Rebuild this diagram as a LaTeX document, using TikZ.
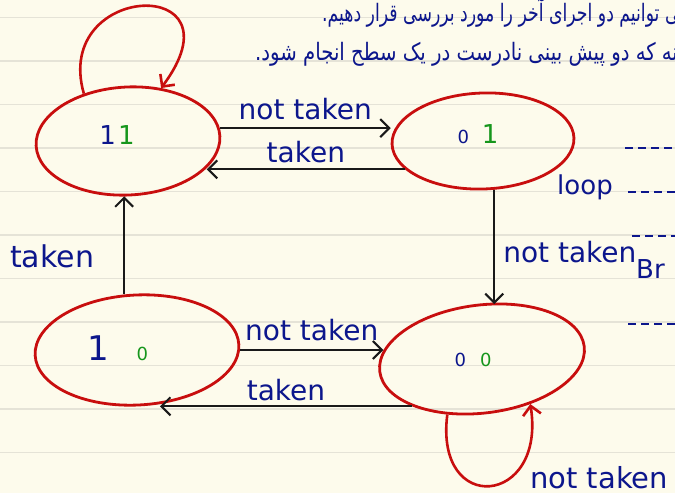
\documentclass[tikz,border=0pt]{standalone}
\usepackage{fontspec}
\setmainfont{DejaVu Sans}
\newfontfamily\farsi[Script=Arabic]{DejaVu Sans}
\TeXXeTstate=1
\usepackage{xcolor,graphicx}
\usetikzlibrary{arrows.meta,shapes.geometric}

\definecolor{paper}{RGB}{253,251,236}
\definecolor{rulegray}{RGB}{229,227,215}
\definecolor{ink}{RGB}{12,22,140}
\definecolor{leaf}{RGB}{22,150,28}
\definecolor{redpen}{RGB}{200,14,14}

\newcommand{\dz}{{\fontsize{18}{20}\selectfont 0}}

\begin{document}
\begin{tikzpicture}[x=1pt,y=-1pt,
  state/.style={ellipse, draw=redpen, line width=2.8pt, inner sep=0pt},
  digit/.style={inner sep=0pt, font=\fontsize{26}{28}\selectfont},
  edge/.style={line width=2.1pt, black!90, -{Straight Barb[length=9pt,width=18pt]}},
  selfloop/.style={line width=2.6pt, redpen, -{Straight Barb[length=9pt,width=18pt]}},
  lbl/.style={text=ink, inner sep=0pt, font=\fontsize{28}{30}\selectfont},
  farsiline/.style={text=ink, inner sep=0pt, anchor=base west, font=\farsi\fontsize{24}{26}\selectfont},
  note/.style={ink, line width=2.5pt, dash pattern=on 8pt off 5pt}]
% лист
\useasboundingbox (0,0) rectangle (675,493);
\clip (0,0) rectangle (675,493);
\fill[paper] (0,0) rectangle (675,493);
\foreach \y in {17.5,61,...,480}
  \draw[rulegray, line width=1.5pt] (0,\y) -- (675,\y);
% текст сверху
\node[farsiline] (line1) at (322,21)
  {\scalebox{0.72}[1]{\beginR می توانیم دو اجرای آخر را مورد بررسی قرار دهیم.\endR}};
\node[farsiline] (line2) at (255,60)
  {\scalebox{0.82}[1]{\beginR نه که دو پیش بینی نادرست در یک سطح انجام شود.\endR}};
% состояния
\node[state, minimum width=184pt, minimum height=108pt, rotate=3,
  label={[digit, xshift=-11pt, yshift=6pt]center:\textcolor{ink}{1}\hspace{2pt}\textcolor{leaf}{1}}] (s11) at (128,141) {};
\node[state, minimum width=182pt, minimum height=96pt, rotate=2,
  label={[digit, xshift=-5pt, yshift=7pt]center:\textcolor{ink}{\dz}\hspace{13pt}\textcolor{leaf}{1}}] (s01) at (483,141) {};
\node[state, minimum width=204pt, minimum height=110pt, rotate=3,
  label={[digit, xshift=-19pt, yshift=2pt]center:\textcolor{ink}{\fontsize{34}{36}\selectfont 1}\hspace{27pt}\textcolor{leaf}{\dz}}] (s10) at (137,350) {};
\node[state, minimum width=206pt, minimum height=108pt, rotate=7,
  label={[digit, xshift=-9pt, yshift=-1pt]center:\textcolor{ink}{\dz}\hspace{14pt}\textcolor{leaf}{\dz}}] (s00) at (482,359) {};
% переходы
\draw[edge] (s11.5) -- (s11.5 -| s01.west) node[lbl, midway, above=7pt] {not taken};
\draw[edge] (s01.198) -- (s01.198 -| s11.338) node[lbl, midway, above=5pt] {taken};
\draw[edge] (s01.281) -- (s01.281 |- s00.north) node[lbl, midway, right=8pt, yshift=-5pt] {not taken};
\draw[edge] (s10.100) -- (s10.100 |- s11.south) node[lbl, midway, left=29pt, yshift=-11pt, font=\fontsize{30}{32}\selectfont] {taken};
\draw[edge] (s10.357) -- (s10.357 -| s00.168) node[lbl, midway, above=8pt] {not taken};
\draw[edge] (s00.207) -- (s00.207 -| s10.290) node[lbl, midway, above=4pt] {taken};
\draw[selfloop] (s11.130) .. controls +(-32,-112) and +(85,-114) .. (s11.55);
\draw[selfloop] (s00.231) .. controls +(-13,102) and +(16,102) .. (s00.310);
\node[lbl, anchor=base west, font=\fontsize{29}{31}\selectfont] (nt00) at (530,488) {not taken};
% заметки справа
\node[lbl, anchor=base west, font=\fontsize{26}{28}\selectfont] (loop) at (557,194) {loop};
\node[lbl, anchor=base west, font=\fontsize{26}{28}\selectfont] (br) at (636,278) {Br};
\draw[note] (625,148) -- (680,148);
\draw[note] (628,192) -- (680,192);
\draw[note] (632,236) -- (680,236);
\draw[note] (628,324) -- (680,324);
\end{tikzpicture}
\end{document}
